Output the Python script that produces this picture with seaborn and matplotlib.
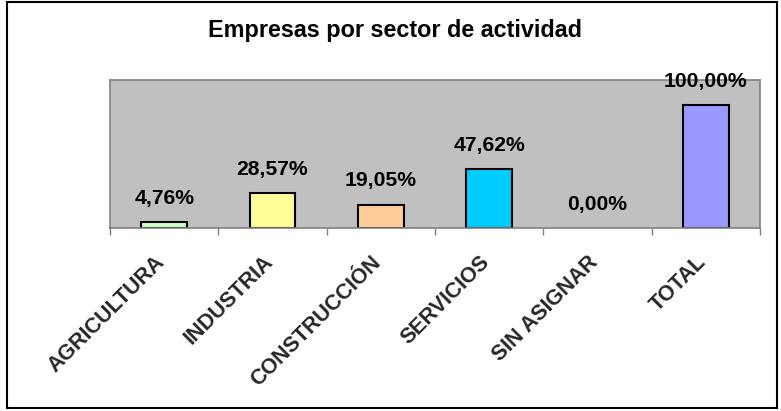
import matplotlib
matplotlib.use("Agg")
import matplotlib.pyplot as plt
import matplotlib.transforms as mtransforms
import seaborn as sns
import pandas as pd
from matplotlib.patches import Rectangle

categories = ["AGRICULTURA", "INDUSTRIA", "CONSTRUCCIÓN", "SERVICIOS", "SIN ASIGNAR", "TOTAL"]
values = [4.76, 28.57, 19.05, 47.62, 0.00, 100.00]
bar_colors = ["#CCFFCC", "#FFFF99", "#FFCC99", "#00CCFF", "#FFFFFF", "#9999FF"]
title = "Empresas por sector de actividad"

sns.set_theme(style="white")
plt.rcParams['font.family'] = ['Liberation Sans', 'DejaVu Sans']

df = pd.DataFrame({"sector": categories, "pct": values})

fig = plt.figure(figsize=(7.81, 4.11), dpi=100)
ax = fig.add_axes([110/781, 1-228/411, (760-110)/781, (228-80)/411])

sns.barplot(data=df, x="sector", y="pct", hue="sector", palette=bar_colors,
            order=categories, hue_order=categories, legend=False,
            width=0.42, edgecolor="black", linewidth=1.5, ax=ax, saturation=1)

for p in ax.patches:
    if p.get_height() == 0:
        p.set_linewidth(0)
        p.set_visible(False)

ax.set_facecolor("#C0C0C0")
ax.set_ylim(0, 120)
ax.set_xlim(-0.5, len(categories) - 0.5)
ax.set_xlabel("")
ax.set_ylabel("")
ax.set_yticks([])
for s in ax.spines.values():
    s.set_visible(True)
    s.set_color("#808080")
    s.set_linewidth(1.2)

# tick marks at category boundaries
ax.set_xticks([i - 0.5 for i in range(len(categories) + 1)], minor=True)
ax.tick_params(axis="x", which="minor", length=5, color="#808080", width=1, direction="out", bottom=True)
ax.set_xticks(range(len(categories)))
ax.set_xticklabels(categories, rotation=45, ha="right", va="top",
                   rotation_mode="anchor", fontsize=15.5, fontweight="bold")
ax.tick_params(axis="x", which="major", length=0, pad=17)
offset = mtransforms.ScaledTranslation(-10/100, 0, fig.dpi_scale_trans)
for lbl in ax.get_xticklabels():
    lbl.set_transform(lbl.get_transform() + offset)

for i, v in enumerate(values):
    ax.annotate(f"{v:.2f}%".replace(".", ","), (i, v), xytext=(0, 13),
                textcoords="offset points", ha="center", va="baseline",
                fontsize=15.2, fontweight="bold", color="black", annotation_clip=False)

fig.text(394.5/781, 1-37.3/411, title, ha="center", va="baseline",
         fontsize=16.8, fontweight="bold", color="black")

fig.patches.append(Rectangle((7/781, 3/411), 770/781, 406/411, transform=fig.transFigure,
                             fill=False, edgecolor="black", linewidth=1.5))

fig.savefig("out.png", dpi=100)
